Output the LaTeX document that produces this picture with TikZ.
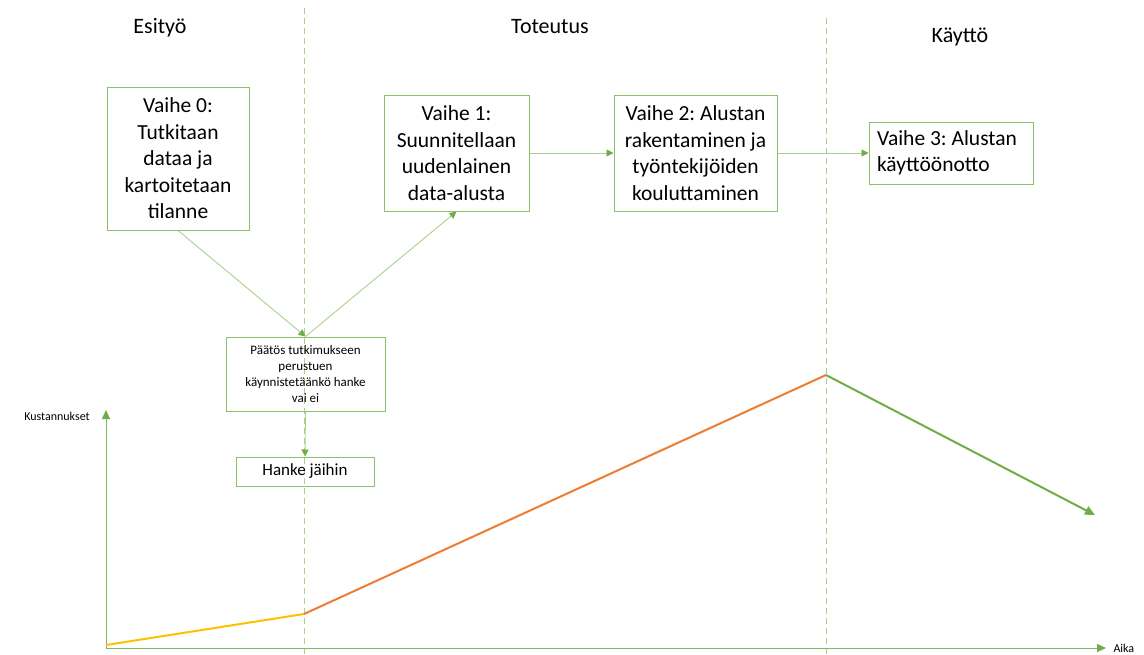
\documentclass[tikz,border=0pt]{standalone}
\usepackage{fontspec}
\setmainfont{Carlito}
\usetikzlibrary{arrows.meta, positioning}
\definecolor{linegreen}{HTML}{A9D18E}
\definecolor{boxgreen}{HTML}{8CC168}
\definecolor{tipgreen}{HTML}{70AD47}
\definecolor{costyellow}{HTML}{FFC000}
\definecolor{costorange}{HTML}{ED7D31}
\frenchspacing

\begin{document}
\begin{tikzpicture}[x=1pt, y=-1pt,
      phase/.style  = {draw=boxgreen, line width=1pt, align=center, inner sep=2pt,
                       font=\fontsize{21.5}{26.5}\selectfont},
      small box/.style = {draw=boxgreen, line width=1pt, align=center, inner sep=2pt},
      heading/.style = {font=\fontsize{22}{26}\selectfont},
      divider/.style = {draw=linegreen, line width=1pt, dash pattern=on 6pt off 4pt},
      arr/.style    = {draw=linegreen, line width=0.9pt,
                       -{Triangle[length=7pt, width=7pt, color=tipgreen]}},
      axis/.style   = {draw=tipgreen!70!linegreen, line width=1pt,
                       -{Triangle[length=9pt, width=8pt, color=tipgreen]}},
      cost/.style   = {line width=2pt},
      axis label/.style = {font=\fontsize{12}{14}\selectfont}
    ]
    \useasboundingbox (0,0) rectangle (1144,654);

    % phase dividers
    \draw[divider] (304,8) -- (304,654);
    \draw[divider] (826,18) -- (826,654);

    \node[heading] (esityo)   at (160,28) {Esityö};
    \node[heading] (toteutus) at (550,27) {Toteutus};
    \node[heading] (kaytto)   at (960,37) {Käyttö};

    % phases
    \node[phase, minimum width=142pt, minimum height=143pt] (v0) at (178,158.5)
      {Vaihe 0:\\Tutkitaan\\dataa ja\\kartoitetaan\\tilanne};
    \node[phase, minimum width=145pt, minimum height=116pt] (v1) at (456.5,153)
      {Vaihe 1:\\Suunnitellaan\\uudenlainen\\data-alusta};
    \node[phase, minimum width=163pt, minimum height=116pt] (v2) at (695.5,153)
      {Vaihe 2: Alustan\\rakentaminen ja\\työntekijöiden\\kouluttaminen};
    \node[phase, align=flush left, minimum width=164pt, minimum height=62pt,
          text width=148pt] (v3) at (951,153)
      {Vaihe 3: Alustan\\käyttöönotto};

    \node[small box, minimum width=159pt, minimum height=74pt,
          font=\fontsize{13}{15.7}\selectfont] (paatos) at (305.5,374)
      {Päätös tutkimukseen\\perustuen\\käynnistetäänkö hanke\\vai ei};
    \node[small box, minimum width=138pt, minimum height=29pt,
          font=\fontsize{17}{20}\selectfont] (jaihin) at (305,471.5) {Hanke jäihin};

    \draw[arr] (v0.south) -- (paatos.north);
    \draw[arr] (paatos.north) -- (v1.south);
    \draw[arr] (paatos.south) -- (jaihin.north);
    \draw[arr] (v1) -- (v2);
    \draw[arr] (v2) -- (v3);

    % cost chart
    \coordinate (origo) at (106,648);
    \coordinate (ytop)  at (106,410);
    \coordinate (xend)  at (1106,648);
    \coordinate (c0) at (106,645);
    \coordinate (c1) at (304,614);
    \coordinate (c2) at (826,375);
    \coordinate (c3) at (1095,515);

    \draw[axis] (origo) -- (ytop);
    \draw[axis] (origo) -- (xend);
    \node[axis label] (kust) at (57,416) {Kustannukset};
    \node[axis label, right=4pt of xend] (aika) {Aika};

    \draw[cost, costyellow] (c0) -- (c1);
    \draw[cost, costorange] (c1) -- (c2);
    \draw[cost, tipgreen, -{Triangle[length=10pt, width=9pt]}] (c2) -- (c3);
\end{tikzpicture}
\end{document}
